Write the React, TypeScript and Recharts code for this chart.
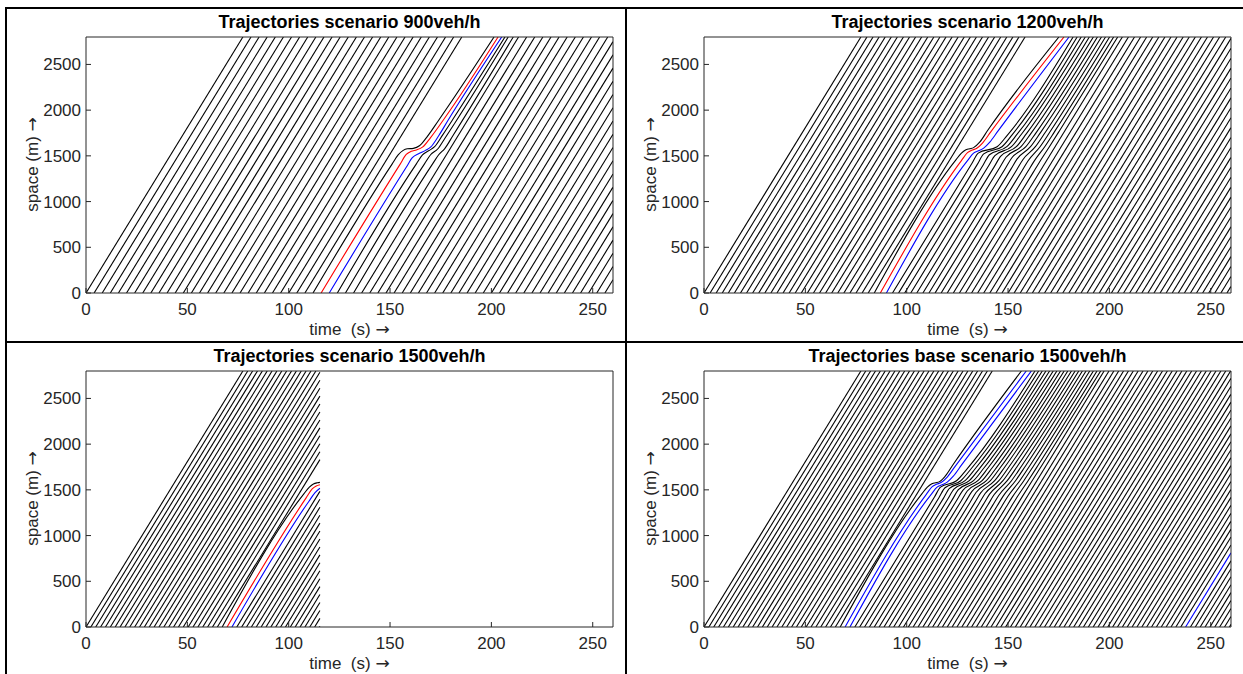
import React from 'react';
import { LineChart, Line, XAxis, YAxis } from 'recharts';

type Pt = [number, number];
type Path = { color: string; pts: Pt[] };

const ROAD_END = 2800; // m, top of the space axis
const FREE_TRAVEL = 77.4; // s, an undisturbed vehicle covers 0-2800 m in this time
const TIME_MAX = 260;
const SIM_END_1500 = 115.4; // the 1500veh/h run is only recorded up to here

const TIME_TICKS = [0, 50, 100, 150, 200, 250];
const SPACE_TICKS = [0, 500, 1000, 1500, 2000, 2500];

const BLACK = '#000000';
const RED = '#ff0000';
const BLUE = '#0000ff';
const AXIS = '#262626';
const FONT = '"Liberation Sans", Arial, Helvetica, sans-serif';

// departure times (s) of the vehicles that drive through undisturbed
const DEP_900 = [
  0, 4, 8, 12, 16, 20, 24, 28, 32, 36, 40, 44, 48, 52, 56, 60, 64, 68, 72, 76, 80, 84, 88, 92, 96, 100, 104, 108,
  136, 140, 144, 148, 152, 156, 160, 164, 168, 172, 176, 180, 184, 188, 192, 196, 200, 204, 208, 212, 216, 220,
  224, 228, 232, 236, 240, 244, 248, 252, 256,
];
const DEP_1200 = [
  0, 3, 6, 9, 12, 15, 18, 21, 24, 27, 30, 33, 36, 39, 42, 45, 48, 51, 54, 57, 60, 63, 66, 69, 72, 75, 78, 81,
  129, 132, 135, 138, 141, 144, 147, 150, 153, 156, 159, 162, 165, 168, 171, 174, 177, 180, 183, 186, 189, 192,
  195, 198, 201, 204, 207, 210, 213, 216, 219, 222, 225, 228, 231, 234, 237, 240, 243, 246, 249, 252, 255, 258,
];
const DEP_1500 = [
  0, 2.4, 4.8, 7.2, 9.6, 12, 14.4, 16.8, 19.2, 21.6, 24, 26.4, 28.8, 31.2, 33.6, 36, 38.4, 40.8, 43.2, 45.6, 48,
  50.4, 52.8, 55.2, 57.6, 60, 62.4, 64.8, 74.4, 76.8, 79.2, 81.6, 84, 86.4, 88.8, 91.2, 93.6, 96, 98.4, 100.8,
  103.2, 105.6, 108, 110.4, 112.8, 115.2,
];
const DEP_BASE = [
  0, 2.4, 4.8, 7.2, 9.6, 12, 14.4, 16.8, 19.2, 21.6, 24, 26.4, 28.8, 31.2, 33.6, 36, 38.4, 40.8, 43.2, 45.6, 48,
  50.4, 52.8, 55.2, 57.6, 60, 62.4, 64.8, 120, 122.4, 124.8, 127.2, 129.6, 132, 134.4, 136.8, 139.2, 141.6, 144,
  146.4, 148.8, 151.2, 153.6, 156, 158.4, 160.8, 163.2, 165.6, 168, 170.4, 172.8, 175.2, 177.6, 180, 182.4, 184.8,
  187.2, 189.6, 192, 194.4, 196.8, 199.2, 201.6, 204, 206.4, 208.8, 211.2, 213.6, 216, 218.4, 220.8, 223.2, 225.6,
  228, 230.4, 232.8, 235.2, 240, 242.4, 244.8, 247.2, 249.6, 252, 254.4, 256.8, 259.2,
];
const DEP_BASE_BLUE = [237.6];

// disturbed trajectories, [time s, position m]
const SLOW_900: Path[] = [
  { color: BLACK, pts: [[112, 0], [151, 1410], [154, 1510], [156.5, 1560], [158.5, 1577], [161.5, 1582], [164.5, 1610], [168, 1700], [174, 1890], [201.3, 2800]] },
  { color: BLACK, pts: [[124, 0], [163, 1412], [166, 1510], [169, 1555], [172, 1600], [176, 1730], [181, 1900], [206.7, 2800]] },
  { color: BLACK, pts: [[128, 0], [167, 1412], [170, 1512], [173.5, 1575], [177, 1690], [182, 1860], [208.3, 2800]] },
  { color: BLACK, pts: [[132, 0], [171, 1412], [174, 1512], [177, 1580], [181, 1720], [210.8, 2800]] },
  { color: RED, pts: [[116, 0], [155, 1410], [158, 1515], [160.5, 1550], [163, 1565], [166, 1595], [170, 1700], [176.3, 1892], [203.3, 2800]] },
  { color: BLUE, pts: [[120, 0], [158, 1375], [161, 1480], [164.5, 1528], [167.5, 1560], [170, 1595], [174, 1720], [178.7, 1892], [205.1, 2800]] },
];

const SLOW_1200: Path[] = [
  { color: BLACK, pts: [[84, 0], [124, 1448], [127, 1530], [129, 1565], [131, 1578], [133, 1590], [136, 1650], [140, 1780], [175.1, 2800]] },
  { color: BLACK, pts: [[93, 0], [132.3, 1421], [135.3, 1530], [144.6, 1600], [149.6, 1725], [182.1, 2800]] },
  { color: BLACK, pts: [[96, 0], [135, 1412], [138, 1521], [147, 1600], [152, 1730], [184.1, 2800]] },
  { color: BLACK, pts: [[99, 0], [137.8, 1403], [140.8, 1512], [149.4, 1600], [154.4, 1734], [186.1, 2800]] },
  { color: BLACK, pts: [[102, 0], [140.5, 1394], [143.5, 1503], [151.7, 1600], [156.7, 1739], [188.1, 2800]] },
  { color: BLACK, pts: [[105, 0], [143.3, 1385], [146.3, 1494], [154.1, 1600], [159.1, 1743], [190.1, 2800]] },
  { color: BLACK, pts: [[108, 0], [146, 1376], [149, 1485], [156.4, 1600], [161.4, 1748], [192.1, 2800]] },
  { color: BLACK, pts: [[111, 0], [148.8, 1367], [151.8, 1476], [158.8, 1600], [163.8, 1752], [194.1, 2800]] },
  { color: BLACK, pts: [[114, 0], [151.5, 1358], [154.5, 1467], [161.1, 1600], [166.1, 1757], [196.1, 2800]] },
  { color: BLACK, pts: [[117, 0], [154.3, 1349], [157.3, 1458], [163.5, 1600], [168.5, 1761], [198.1, 2800]] },
  { color: BLACK, pts: [[120, 0], [157, 1340], [160, 1449], [165.8, 1600], [170.8, 1766], [200.1, 2800]] },
  { color: BLACK, pts: [[123, 0], [159.8, 1331], [162.8, 1440], [168.1, 1600], [173.1, 1770], [202.1, 2800]] },
  { color: BLACK, pts: [[126, 0], [162.5, 1322], [165.5, 1431], [170.4, 1600], [175.4, 1775], [204.1, 2800]] },
  { color: RED, pts: [[87, 0], [127, 1448], [130, 1535], [132, 1560], [134.4, 1580], [137.4, 1640], [141.4, 1760], [177.6, 2800]] },
  { color: BLUE, pts: [[90, 0], [130, 1448], [133, 1530], [135.5, 1555], [138, 1585], [141, 1650], [145, 1770], [180.1, 2800]] },
];

const SLOW_1500: Path[] = [
  { color: BLACK, pts: [[67.2, 0], [107.2, 1448], [110.2, 1530], [112.2, 1565], [114.2, 1578], [115.4, 1582]] },
  { color: RED, pts: [[69.6, 0], [108.6, 1412], [111.6, 1510], [113.6, 1542], [115.4, 1556]] },
  { color: BLUE, pts: [[72, 0], [110, 1376], [113, 1470], [115.4, 1518]] },
];

const SLOW_BASE: Path[] = [
  { color: BLACK, pts: [[67.2, 0], [107.2, 1448], [110.2, 1530], [112.2, 1565], [114.2, 1578], [116.2, 1590], [119, 1650], [123, 1780], [156.6, 2800]] },
  { color: BLACK, pts: [[74.4, 0], [113.7, 1421], [116.7, 1530], [124.6, 1600], [129.6, 1725], [163.3, 2800]] },
  { color: BLACK, pts: [[76.8, 0], [115.9, 1414], [118.9, 1523], [126.7, 1600], [131.7, 1728], [165.1, 2800]] },
  { color: BLACK, pts: [[79.2, 0], [118.1, 1407], [121.1, 1516], [128.8, 1600], [133.8, 1731], [166.9, 2800]] },
  { color: BLACK, pts: [[81.6, 0], [120.3, 1400], [123.3, 1509], [130.9, 1600], [135.9, 1733], [168.7, 2800]] },
  { color: BLACK, pts: [[84, 0], [122.5, 1393], [125.5, 1502], [133, 1600], [138, 1736], [170.5, 2800]] },
  { color: BLACK, pts: [[86.4, 0], [124.7, 1386], [127.7, 1495], [135.1, 1600], [140.1, 1739], [172.3, 2800]] },
  { color: BLACK, pts: [[88.8, 0], [126.9, 1379], [129.9, 1488], [137.2, 1600], [142.2, 1742], [174.1, 2800]] },
  { color: BLACK, pts: [[91.2, 0], [129.1, 1372], [132.1, 1481], [139.3, 1600], [144.3, 1744], [175.9, 2800]] },
  { color: BLACK, pts: [[93.6, 0], [131.3, 1365], [134.3, 1474], [141.3, 1600], [146.3, 1747], [177.7, 2800]] },
  { color: BLACK, pts: [[96, 0], [133.5, 1358], [136.5, 1467], [143.4, 1600], [148.4, 1750], [179.5, 2800]] },
  { color: BLACK, pts: [[98.4, 0], [135.7, 1351], [138.7, 1460], [145.5, 1600], [150.5, 1753], [181.3, 2800]] },
  { color: BLACK, pts: [[100.8, 0], [137.9, 1344], [140.9, 1453], [147.5, 1600], [152.5, 1755], [183.1, 2800]] },
  { color: BLACK, pts: [[103.2, 0], [140.1, 1337], [143.1, 1446], [149.6, 1600], [154.6, 1758], [184.9, 2800]] },
  { color: BLACK, pts: [[105.6, 0], [142.4, 1330], [145.4, 1439], [151.7, 1600], [156.7, 1761], [186.7, 2800]] },
  { color: BLACK, pts: [[108, 0], [144.6, 1323], [147.6, 1432], [153.7, 1600], [158.7, 1764], [188.5, 2800]] },
  { color: BLACK, pts: [[110.4, 0], [146.8, 1316], [149.8, 1425], [155.8, 1600], [160.8, 1766], [190.3, 2800]] },
  { color: BLACK, pts: [[112.8, 0], [149, 1309], [152, 1418], [157.8, 1600], [162.8, 1769], [192.1, 2800]] },
  { color: BLACK, pts: [[115.2, 0], [151.2, 1302], [154.2, 1411], [159.9, 1600], [164.9, 1772], [193.9, 2800]] },
  { color: BLACK, pts: [[117.6, 0], [153.4, 1295], [156.4, 1404], [161.9, 1600], [166.9, 1775], [195.7, 2800]] },
  { color: BLUE, pts: [[69.6, 0], [109.6, 1448], [112.6, 1535], [114.6, 1560], [117, 1580], [120, 1640], [124, 1760], [159, 2800]] },
  { color: BLUE, pts: [[72, 0], [112, 1448], [115, 1530], [117.5, 1555], [120, 1585], [123, 1650], [127, 1770], [161.5, 2800]] },
];

const PLOT_W = 527;
const PLOT_H = 256;
const Y_AXIS_W = 80;
const TOP_H = 30;
const BOTTOM_H = 50;
const LINE_W = 1.1;

const straight = (dep: number, end: number) => {
  const tEnd = Math.min(dep + FREE_TRAVEL, end);
  return [
    { t: dep, x: 0 },
    { t: tEnd, x: (ROAD_END * (tEnd - dep)) / FREE_TRAVEL },
  ];
};

const toRows = (pts: Pt[]) => pts.map(([t, x]) => ({ t, x }));

const Arrow = () => <span style={{ fontFamily: '"DejaVu Sans", sans-serif', fontSize: 17 }}>{'\u2192'}</span>;

interface PanelProps {
  title: string;
  left: number;
  top: number;
  departures: number[];
  blueDepartures?: number[];
  paths: Path[];
  end?: number;
}

const Panel: React.FC<PanelProps> = ({ title, left, top, departures, blueDepartures = [], paths, end = TIME_MAX }) => {
  const blackPaths = paths.filter((p) => p.color === BLACK);
  const colorPaths = paths.filter((p) => p.color !== BLACK);
  const tickStyle = { fill: AXIS, fontSize: 17, fontFamily: FONT };

  return (
    <>
      <div
        style={{
          position: 'absolute',
          left,
          top: top - 25,
          width: PLOT_W,
          textAlign: 'center',
          fontFamily: FONT,
          fontWeight: 'bold',
          fontSize: 18,
          lineHeight: '20px',
          color: '#000',
          whiteSpace: 'pre',
        }}
      >
        {title}
      </div>
      <div
        style={{
          position: 'absolute',
          left,
          top: top + PLOT_H + 26,
          width: PLOT_W,
          textAlign: 'center',
          fontFamily: FONT,
          fontSize: 17,
          lineHeight: '20px',
          color: AXIS,
          whiteSpace: 'pre',
        }}
      >
        {'time  (s) '}
        <Arrow />
      </div>
      <div
        style={{
          position: 'absolute',
          left: left - 54 - PLOT_H / 2,
          top: top + PLOT_H / 2 - 11,
          width: PLOT_H,
          textAlign: 'center',
          fontFamily: FONT,
          fontSize: 17,
          lineHeight: '20px',
          color: AXIS,
          transform: 'rotate(-90deg)',
          whiteSpace: 'pre',
        }}
      >
        {'space (m) '}
        <Arrow />
      </div>
      <div style={{ position: 'absolute', left: left - Y_AXIS_W, top: top - TOP_H }}>
        <LineChart
          width={Y_AXIS_W + PLOT_W + 10}
          height={TOP_H + PLOT_H + BOTTOM_H}
          margin={{ top: 0, right: 5, bottom: 0, left: 0 }}
        >
          <XAxis
            type="number"
            dataKey="t"
            domain={[0, TIME_MAX]}
            ticks={TIME_TICKS}
            interval={0}
            allowDataOverflow
            height={BOTTOM_H}
            tickSize={-5}
            tickMargin={15}
            stroke={AXIS}
            tick={tickStyle}
          />
          <XAxis
            xAxisId="top"
            orientation="top"
            type="number"
            dataKey="t"
            domain={[0, TIME_MAX]}
            ticks={TIME_TICKS}
            interval={0}
            allowDataOverflow
            height={TOP_H}
            tickSize={-5}
            tick={false}
            stroke={AXIS}
          />
          <YAxis
            type="number"
            dataKey="x"
            domain={[0, ROAD_END]}
            ticks={SPACE_TICKS}
            interval={0}
            allowDataOverflow
            width={Y_AXIS_W}
            tickSize={-5}
            tickMargin={10}
            stroke={AXIS}
            tick={tickStyle}
          />
          <YAxis
            yAxisId="right"
            orientation="right"
            type="number"
            dataKey="x"
            domain={[0, ROAD_END]}
            ticks={SPACE_TICKS}
            interval={0}
            allowDataOverflow
            width={5}
            tickSize={-5}
            tick={false}
            stroke={AXIS}
          />
          {departures.map((d) => (
            <Line
              key={`s${d}`}
              data={straight(d, end)}
              dataKey="x"
              type="linear"
              stroke={BLACK}
              strokeWidth={LINE_W}
              dot={false}
              activeDot={false}
              isAnimationActive={false}
            />
          ))}
          {blueDepartures.map((d) => (
            <Line
              key={`b${d}`}
              data={straight(d, end)}
              dataKey="x"
              type="linear"
              stroke={BLUE}
              strokeWidth={LINE_W}
              dot={false}
              activeDot={false}
              isAnimationActive={false}
            />
          ))}
          {[...blackPaths, ...colorPaths].map((p) => (
            <Line
              key={`p${p.pts[0][0]}`}
              data={toRows(p.pts)}
              dataKey="x"
              type="monotone"
              stroke={p.color}
              strokeWidth={LINE_W}
              dot={false}
              activeDot={false}
              isAnimationActive={false}
            />
          ))}
        </LineChart>
      </div>
    </>
  );
};

const bar = (left: number, top: number, width: number, height: number) => (
  <div style={{ position: 'absolute', left, top, width, height, background: '#000' }} />
);

export default function App() {
  return (
    <div style={{ position: 'absolute', left: 0, top: 0, width: 1243, height: 674, background: '#fff', overflow: 'hidden' }}>
      {bar(5, 7, 1238, 2)}
      {bar(5, 7, 2, 667)}
      {bar(625, 7, 2, 667)}
      {bar(5, 341, 1238, 2)}
      <Panel title="Trajectories scenario 900veh/h" left={86} top={37} departures={DEP_900} paths={SLOW_900} />
      <Panel title="Trajectories scenario 1200veh/h" left={704} top={37} departures={DEP_1200} paths={SLOW_1200} />
      <Panel
        title="Trajectories scenario 1500veh/h"
        left={86}
        top={371}
        departures={DEP_1500}
        paths={SLOW_1500}
        end={SIM_END_1500}
      />
      <Panel
        title="Trajectories base scenario 1500veh/h"
        left={704}
        top={371}
        departures={DEP_BASE}
        blueDepartures={DEP_BASE_BLUE}
        paths={SLOW_BASE}
      />
    </div>
  );
}
